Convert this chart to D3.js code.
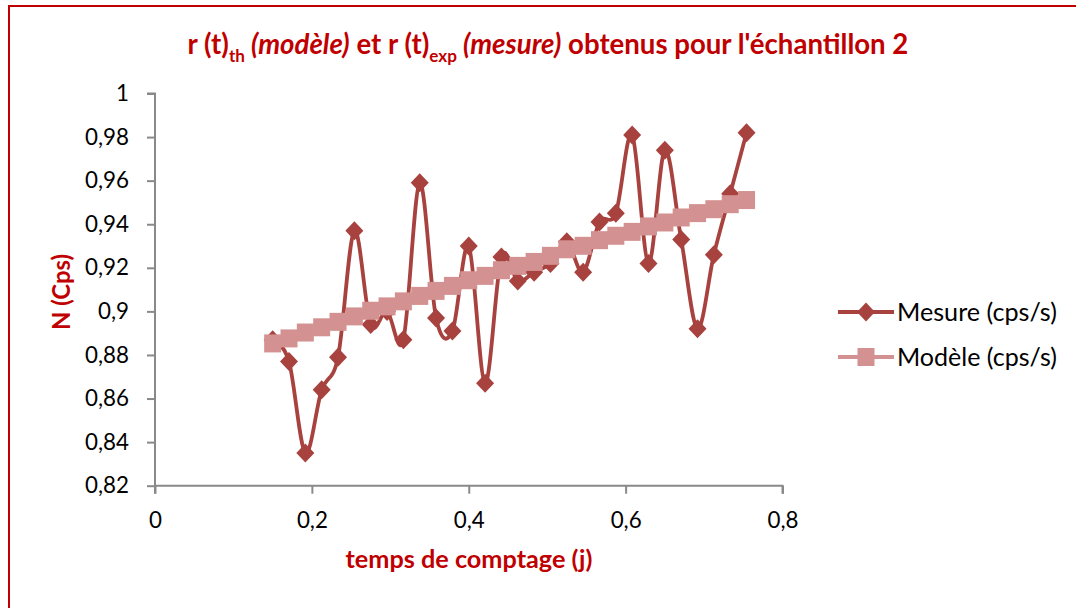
<!DOCTYPE html>
<html>
<head>
<meta charset="utf-8">
<script src="https://cdn.jsdelivr.net/npm/d3@7"></script>
<style>
  html, body { margin: 0; padding: 0; background: #fff; }
  svg { display: block; }
  text { font-family: Lato, "Open Sans", "Liberation Sans", sans-serif; }
</style>
</head>
<body>
<svg id="chart" width="1076" height="608"></svg>
<script>
// Counting times (days), one reading every half hour
const tStart = 0.15;
const tStep = 1 / 48;
const mesure = [0.887, 0.877, 0.835, 0.864, 0.879, 0.937, 0.894, 0.900, 0.887, 0.959,
                0.897, 0.891, 0.930, 0.867, 0.925, 0.914, 0.918, 0.922, 0.932, 0.918,
                0.941, 0.945, 0.981, 0.922, 0.974, 0.933, 0.892, 0.926, 0.954, 0.982];
const modele = [0.8853, 0.8876, 0.8903, 0.8927, 0.8952, 0.8977, 0.9003, 0.9023, 0.9046, 0.9071,
                0.9094, 0.9117, 0.9143, 0.9163, 0.9189, 0.9209, 0.9227, 0.9255, 0.9285, 0.9301,
                0.9327, 0.9347, 0.9365, 0.9390, 0.9408, 0.9431, 0.9451, 0.9469, 0.9492, 0.9511];
const temps = mesure.map((_, i) => tStart + i * tStep);
const xTicks = [0, 0.2, 0.4, 0.6, 0.8];
const yTicks = [0.82, 0.84, 0.86, 0.88, 0.9, 0.92, 0.94, 0.96, 0.98, 1];
const seriesNames = ["Mesure (cps/s)", "Modèle (cps/s)"];

const colMesure = "#A8423F";
const colModele = "#D39291";
const colTitle = "#C00000";
const colAxis = "#898989";

const svg = d3.select("#chart");

// Scale a text's font size so that it spans the wanted width
function fitWidth(sel, width) {
  const node = sel.node();
  const size = parseFloat(sel.style("font-size"));
  const w = node.getComputedTextLength();
  const s = size * width / w;
  sel.style("font-size", s + "px");
  return s;
}

// Outer frame
svg.append("rect")
  .attr("x", 9).attr("y", 6).attr("width", 1100).attr("height", 700)
  .attr("fill", "none").attr("stroke", colTitle).attr("stroke-width", 2);

const x = d3.scaleLinear().domain([0, 0.8]).range([155, 782.5]);
const y = d3.scaleLinear().domain([0.82, 1]).range([485.7, 93.5]);

const fmt = v => String(+v.toFixed(2)).replace(".", ",");

// Tick label size, taken from the width of a two-decimal label
const probe = svg.append("text").style("font-size", "20px").text(fmt(0.98));
const tickSize = fitWidth(probe, 44);
probe.remove();

// Axes
const gx = svg.append("g").attr("transform", `translate(0,${y(0.82)})`)
  .call(d3.axisBottom(x).tickValues(xTicks).tickSize(8).tickPadding(18).tickFormat(fmt));
const gy = svg.append("g").attr("transform", `translate(${x(0)},0)`)
  .call(d3.axisLeft(y).tickValues(yTicks).tickSize(8).tickPadding(18).tickFormat(fmt));
[gx, gy].forEach(g => {
  g.select(".domain").attr("stroke", colAxis).attr("stroke-width", 2);
  g.selectAll(".tick line").attr("stroke", colAxis).attr("stroke-width", 2);
  g.selectAll(".tick text").attr("fill", "#000").style("font-size", tickSize + "px")
    .style("font-family", "Lato, 'Open Sans', sans-serif");
});
gy.select(".domain").attr("d", `M-8,${y(1)}H0V${y(0.82)}`);
gx.select(".domain").attr("d", `M${x(0)},8V0H${x(0.8)}V8`);

// Series
const line = d3.line().x((d, i) => x(temps[i])).y(d => y(d)).curve(d3.curveCatmullRom.alpha(0));

svg.append("path").datum(mesure).attr("d", line)
  .attr("fill", "none").attr("stroke", colMesure).attr("stroke-width", 3.8);
svg.append("g").selectAll("path").data(mesure).join("path")
  .attr("d", "M0,-9.5L9,0L0,9.5L-9,0Z")
  .attr("transform", (d, i) => `translate(${x(temps[i])},${y(d)})`)
  .attr("fill", colMesure);

svg.append("path").datum(modele).attr("d", line)
  .attr("fill", "none").attr("stroke", colModele).attr("stroke-width", 3.8);
svg.append("g").selectAll("rect").data(modele).join("rect")
  .attr("x", (d, i) => x(temps[i]) - 8.5).attr("y", d => y(d) - 9)
  .attr("width", 17).attr("height", 18)
  .attr("fill", colModele);

// Legend
const legend = svg.append("g");
const legY = [312, 357];
[colMesure, colModele].forEach((c, k) => {
  legend.append("line").attr("x1", 838).attr("x2", 894).attr("y1", legY[k]).attr("y2", legY[k])
    .attr("stroke", c).attr("stroke-width", 3.8);
  if (k === 0) {
    legend.append("path").attr("d", "M0,-9.5L9,0L0,9.5L-9,0Z")
      .attr("transform", `translate(866,${legY[k]})`).attr("fill", c);
  } else {
    legend.append("rect").attr("x", 857.5).attr("y", legY[k] - 9).attr("width", 17).attr("height", 18).attr("fill", c);
  }
  const t = legend.append("text").attr("x", 897).attr("y", legY[k]).attr("dy", "0.36em")
    .style("font-size", "20px").attr("fill", "#000").text(seriesNames[k]);
  fitWidth(t, 160);
});

// Title
const title = svg.append("text").attr("x", 548).attr("y", 54).attr("text-anchor", "middle")
  .attr("fill", colTitle).style("font-size", "20px").style("font-weight", "bold");
title.append("tspan").text("r (t)");
title.append("tspan").text("th").style("font-size", "0.62em").attr("dy", "0.45em");
title.append("tspan").text(" (modèle)").style("font-style", "italic").attr("dy", "-0.28em");
title.append("tspan").text(" et r (t)");
title.append("tspan").text("exp").style("font-size", "0.62em").attr("dy", "0.45em");
title.append("tspan").text(" (mesure)").style("font-style", "italic").attr("dy", "-0.28em");
title.append("tspan").text(" obtenus pour l'échantillon 2");
fitWidth(title, 721);

// Axis titles
const xt = svg.append("text").attr("x", 469).attr("y", 568).attr("text-anchor", "middle")
  .attr("fill", colTitle).style("font-size", "20px").style("font-weight", "bold")
  .text("temps de comptage (j)");
fitWidth(xt, 247);
const yt = svg.append("text").attr("transform", "translate(70,292) rotate(-90)").attr("text-anchor", "middle")
  .attr("fill", colTitle).style("font-size", "20px").style("font-weight", "bold")
  .text("N (Cps)");
fitWidth(yt, 76);
</script>
</body>
</html>
